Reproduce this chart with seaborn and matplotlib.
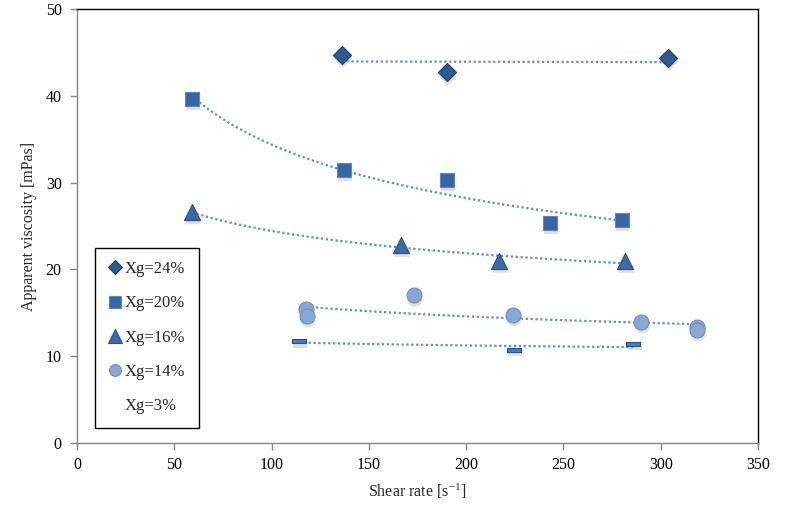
import numpy as np
import pandas as pd
import matplotlib
matplotlib.use("Agg")
import matplotlib.pyplot as plt
from matplotlib.lines import Line2D
from matplotlib.path import Path
import seaborn as sns

# ---- data ----
labels = ["Xg=24%", "Xg=20%", "Xg=16%", "Xg=14%", "Xg=3%"]
shear_24 = [136, 190, 304]
visc_24 = [44.7, 42.7, 44.4]
shear_20 = [59, 137, 190, 243, 280]
visc_20 = [39.6, 31.4, 30.3, 25.4, 25.7]
shear_16 = [59, 166.5, 217, 281.5]
visc_16 = [26.6, 22.8, 21.0, 21.0]
shear_14 = [117.7, 118, 173, 224, 290, 318.5, 318.5]
visc_14 = [15.4, 14.6, 17.0, 14.8, 13.9, 13.4, 13.0]
shear_3 = [114, 224.5, 286]
visc_3 = [11.7, 10.7, 11.4]

series_x = [shear_24, shear_20, shear_16, shear_14, shear_3]
series_y = [visc_24, visc_20, visc_16, visc_14, visc_3]

# ---- styles ----
flat_bar = Path([(-1, -0.32), (1, -0.32), (1, 0.32), (-1, 0.32), (-1, -0.32)],
                [Path.MOVETO, Path.LINETO, Path.LINETO, Path.LINETO, Path.CLOSEPOLY])
markers = ["D", "s", "^", "o", flat_bar]
sizes = [85, 105, 135, 115, 105]
faces = ["#2C5A92", "#3566A8", "#3A6AAA", "#8AA7D3", "#4A7CC0"]
edges = ["#1F4270", "#5F86BE", "#2A5088", "#6F8FC0", "#2A5088"]
trend_color = "#5B8BD0"

sns.set_theme(style="white")
plt.rcParams["font.family"] = ["Liberation Serif", "DejaVu Serif"]
plt.rcParams["font.size"] = 11.5
plt.rcParams["mathtext.fontset"] = "custom"
plt.rcParams["mathtext.rm"] = "Liberation Serif"
plt.rcParams["mathtext.it"] = "Liberation Serif:italic"
plt.rcParams["axes.unicode_minus"] = False

fig = plt.figure(figsize=(7.89, 5.14), dpi=100)
ax = fig.add_axes([77 / 789, 1 - 443 / 514, (758 - 77) / 789, (443 - 9) / 514])

for i, (xs, ys) in enumerate(zip(series_x, series_y)):
    df = pd.DataFrame({"x": xs, "y": ys})
    # power-law trendline fitted to the series
    b, ln_a = np.polyfit(np.log(df["x"]), np.log(df["y"]), 1)
    xt = np.linspace(min(xs), max(xs), 100)
    tdf = pd.DataFrame({"x": xt, "y": np.exp(ln_a) * xt ** b})
    sns.lineplot(data=tdf, x="x", y="y", ax=ax, color=trend_color,
                 linestyle=(0, (1, 1.2)), linewidth=1.6, zorder=2)
    # soft shadow under markers
    sdf = pd.DataFrame({"x": df["x"] + 0.6, "y": df["y"] - 0.45})
    sns.scatterplot(data=sdf, x="x", y="y", ax=ax, marker=markers[i],
                    s=sizes[i], color="#bbbbbb", edgecolor="none", alpha=0.45,
                    zorder=3, legend=False)
    sns.scatterplot(data=df, x="x", y="y", ax=ax, marker=markers[i],
                    s=sizes[i], color=faces[i], edgecolor=edges[i],
                    linewidth=0.8, zorder=4, legend=False)

ax.set_xlim(0, 350)
ax.set_ylim(0, 50)
ax.set_xticks(np.arange(0, 351, 50))
ax.set_yticks(np.arange(0, 51, 10))
ax.set_xlabel(r"Shear rate [s$^{\mathrm{-1}}$]", fontsize=11.5, labelpad=6)
ax.set_ylabel("Apparent viscosity [mPas]", fontsize=11.5, labelpad=6)

for side in ["left", "bottom"]:
    ax.spines[side].set_color("#868686")
    ax.spines[side].set_linewidth(1.0)
for side in ["top", "right"]:
    ax.spines[side].set_color("black")
    ax.spines[side].set_linewidth(1.0)
ax.tick_params(axis="both", which="major", direction="out", length=5,
               width=1, color="#868686", labelsize=11.5, labelcolor="black",
               bottom=True, left=True)
ax.tick_params(axis="x", pad=5)
ax.tick_params(axis="y", pad=6)

handles = []
legend_sizes = [7.5, 8.5, 10, 8.5, 0]
for i in range(len(labels)):
    handles.append(Line2D([], [], linestyle="none", marker=markers[i] if i < 4 else "None",
                          markersize=legend_sizes[i], markerfacecolor=faces[i],
                          markeredgecolor=edges[i], markeredgewidth=0.8))
leg = ax.legend(handles, labels, loc="lower left",
                bbox_to_anchor=(0.026, 0.035), frameon=True, fancybox=False,
                edgecolor="black", framealpha=1, fontsize=12,
                labelspacing=1.1, handlelength=0.8, handletextpad=0.2,
                borderpad=0.8, borderaxespad=0)
leg.get_frame().set_linewidth(1.0)

fig.savefig("out.png", dpi=100)
